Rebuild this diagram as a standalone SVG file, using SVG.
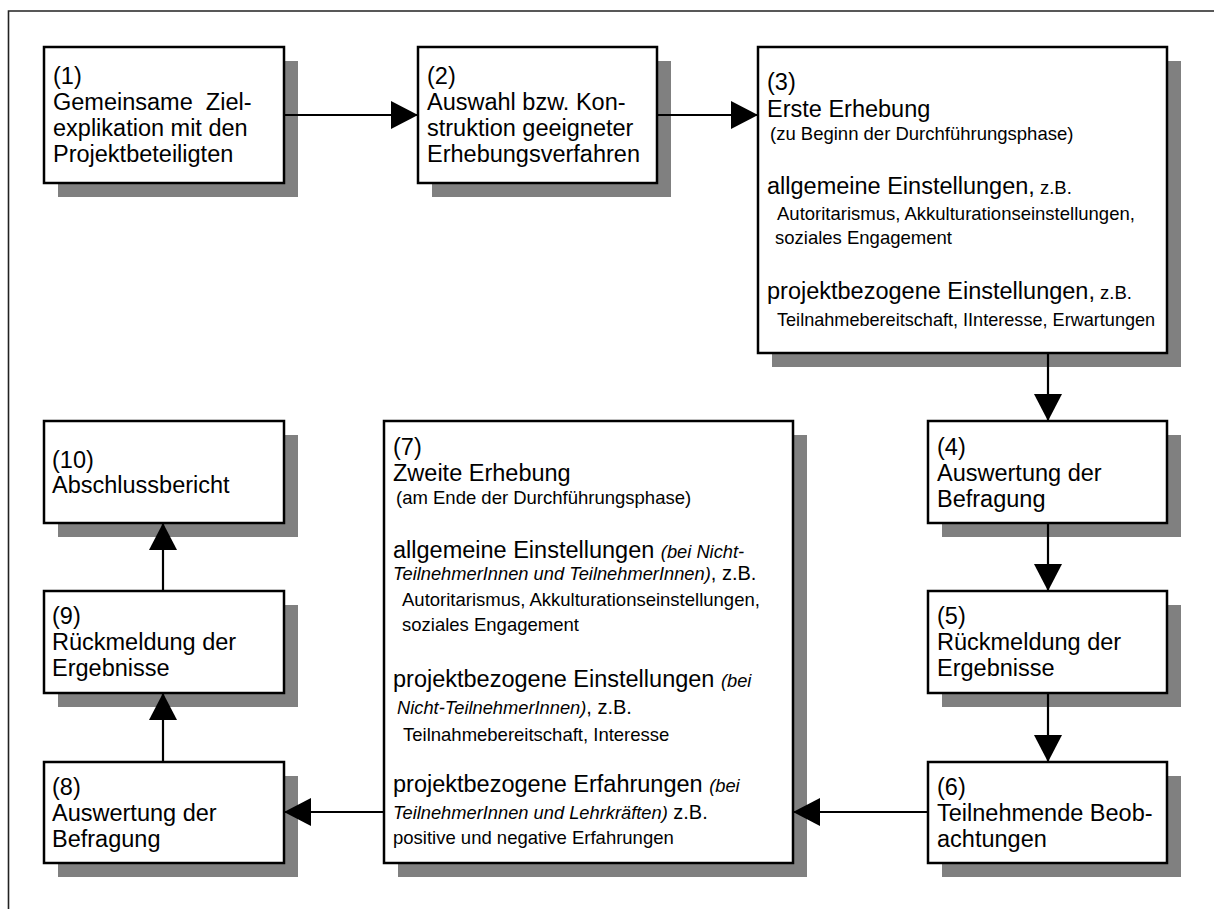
<svg xmlns="http://www.w3.org/2000/svg" width="1214" height="909" viewBox="0 0 1214 909">
<defs>
<marker id="ah" markerUnits="userSpaceOnUse" markerWidth="27" markerHeight="28" refX="27" refY="14" orient="auto">
<path d="M0,0 L27,14 L0,28 z" fill="#000"/>
</marker>
<style>
.sh{fill:#808080;stroke:none}
.bx{fill:#fff;stroke:#000;stroke-width:2.5}
text{font-family:"Liberation Sans",Arial,sans-serif;fill:#000}
.b{font-size:23.5px}
.s{font-size:18.5px}
.z{font-size:20px}
.i{font-size:18.3px;font-style:italic}
.c{fill:none;stroke:#000;stroke-width:2.2}
</style>
</defs>
<rect width="1214" height="909" fill="#fff"/>
<path d="M8.5,909 V11 H1214" fill="none" stroke="#222" stroke-width="1.6"/>

<g id="n1">
<rect class="sh" x="58" y="61" width="240" height="136"/>
<rect class="bx" x="44" y="47" width="240" height="136"/>
<text class="b" x="53" xml:space="preserve"><tspan x="53" y="84">(1)</tspan><tspan x="53" y="110">Gemeinsame  Ziel-</tspan><tspan x="53" y="136">explikation mit den</tspan><tspan x="53" y="162">Projektbeteiligten</tspan></text>
</g>

<g id="n2">
<rect class="sh" x="432" y="61" width="239" height="136"/>
<rect class="bx" x="418" y="47" width="239" height="136"/>
<text class="b"><tspan x="427" y="84">(2)</tspan><tspan x="427" y="110">Auswahl bzw. Kon-</tspan><tspan x="427" y="136">struktion geeigneter</tspan><tspan x="427" y="162">Erhebungsverfahren</tspan></text>
</g>

<g id="n3">
<rect class="sh" x="772" y="61" width="409" height="306"/>
<rect class="bx" x="758" y="47" width="409" height="306"/>
<text class="b" x="767" y="90">(3)</text>
<text class="b" x="767" y="117">Erste Erhebung</text>
<text class="s" x="770" y="140">(zu Beginn der Durchführungsphase)</text>
<text x="767" y="194"><tspan class="b">allgemeine Einstellungen,</tspan><tspan class="s"> z.B.</tspan></text>
<text class="s" x="777" y="220">Autoritarismus, Akkulturationseinstellungen,</text>
<text class="s" x="775" y="244">soziales Engagement</text>
<text x="767" y="299"><tspan class="b">projektbezogene Einstellungen,</tspan><tspan class="s"> z.B.</tspan></text>
<text x="777" y="326" style="font-size:18.1px">Teilnahmebereitschaft, IInteresse, Erwartungen</text>
</g>

<g id="n4">
<rect class="sh" x="942" y="435" width="239" height="102"/>
<rect class="bx" x="928" y="421" width="239" height="102"/>
<text class="b"><tspan x="937" y="455">(4)</tspan><tspan x="937" y="481">Auswertung der</tspan><tspan x="937" y="507">Befragung</tspan></text>
</g>

<g id="n5">
<rect class="sh" x="942" y="605" width="239" height="102"/>
<rect class="bx" x="928" y="591" width="239" height="102"/>
<text class="b"><tspan x="937" y="624">(5)</tspan><tspan x="937" y="650">Rückmeldung der</tspan><tspan x="937" y="676">Ergebnisse</tspan></text>
</g>

<g id="n6">
<rect class="sh" x="942" y="776" width="239" height="101"/>
<rect class="bx" x="928" y="762" width="239" height="101"/>
<text class="b"><tspan x="937" y="795">(6)</tspan><tspan x="937" y="821">Teilnehmende Beob-</tspan><tspan x="937" y="847">achtungen</tspan></text>
</g>

<g id="n7">
<rect class="sh" x="398" y="435" width="409" height="442"/>
<rect class="bx" x="384" y="421" width="409" height="442"/>
<text class="b" x="393" y="455">(7)</text>
<text class="b" x="393" y="481">Zweite Erhebung</text>
<text class="s" x="396" y="504">(am Ende der Durchführungsphase)</text>
<text x="393" y="558"><tspan class="b">allgemeine Einstellungen </tspan><tspan class="i">(bei Nicht-</tspan></text>
<text x="393" y="580"><tspan class="i">TeilnehmerInnen und TeilnehmerInnen)</tspan><tspan class="z">, z.B.</tspan></text>
<text class="s" x="402" y="606">Autoritarismus, Akkulturationseinstellungen,</text>
<text class="s" x="402" y="631">soziales Engagement</text>
<text x="393" y="687"><tspan class="b">projektbezogene Einstellungen </tspan><tspan class="i">(bei</tspan></text>
<text x="397" y="714"><tspan class="i">Nicht-TeilnehmerInnen)</tspan><tspan class="z">, z.B.</tspan></text>
<text class="s" x="403" y="741">Teilnahmebereitschaft, Interesse</text>
<text x="393" y="792"><tspan class="b">projektbezogene Erfahrungen </tspan><tspan class="i">(bei</tspan></text>
<text x="393" y="819"><tspan class="i">TeilnehmerInnen und Lehrkräften)</tspan><tspan class="z"> z.B.</tspan></text>
<text class="s" x="393" y="844">positive und negative Erfahrungen</text>
</g>

<g id="n8">
<rect class="sh" x="58" y="776" width="240" height="101"/>
<rect class="bx" x="44" y="762" width="240" height="101"/>
<text class="b"><tspan x="52" y="795">(8)</tspan><tspan x="52" y="821">Auswertung der</tspan><tspan x="52" y="847">Befragung</tspan></text>
</g>

<g id="n9">
<rect class="sh" x="58" y="605" width="240" height="102"/>
<rect class="bx" x="44" y="591" width="240" height="102"/>
<text class="b"><tspan x="52" y="624">(9)</tspan><tspan x="52" y="650">Rückmeldung der</tspan><tspan x="52" y="676">Ergebnisse</tspan></text>
</g>

<g id="n10">
<rect class="sh" x="58" y="435" width="240" height="102"/>
<rect class="bx" x="44" y="421" width="240" height="102"/>
<text class="b"><tspan x="52" y="468">(10)</tspan><tspan x="52" y="493">Abschlussbericht</tspan></text>
</g>

<g id="connectors">
<path class="c" d="M284,115 H418" marker-end="url(#ah)"/>
<path class="c" d="M657,115 H758" marker-end="url(#ah)"/>
<path class="c" d="M1048,353 V421" marker-end="url(#ah)"/>
<path class="c" d="M1048,523 V591" marker-end="url(#ah)"/>
<path class="c" d="M1048,693 V762" marker-end="url(#ah)"/>
<path class="c" d="M928,812 H793" marker-end="url(#ah)"/>
<path class="c" d="M384,812 H284" marker-end="url(#ah)"/>
<path class="c" d="M163,762 V693" marker-end="url(#ah)"/>
<path class="c" d="M163,591 V523" marker-end="url(#ah)"/>
</g>
</svg>
